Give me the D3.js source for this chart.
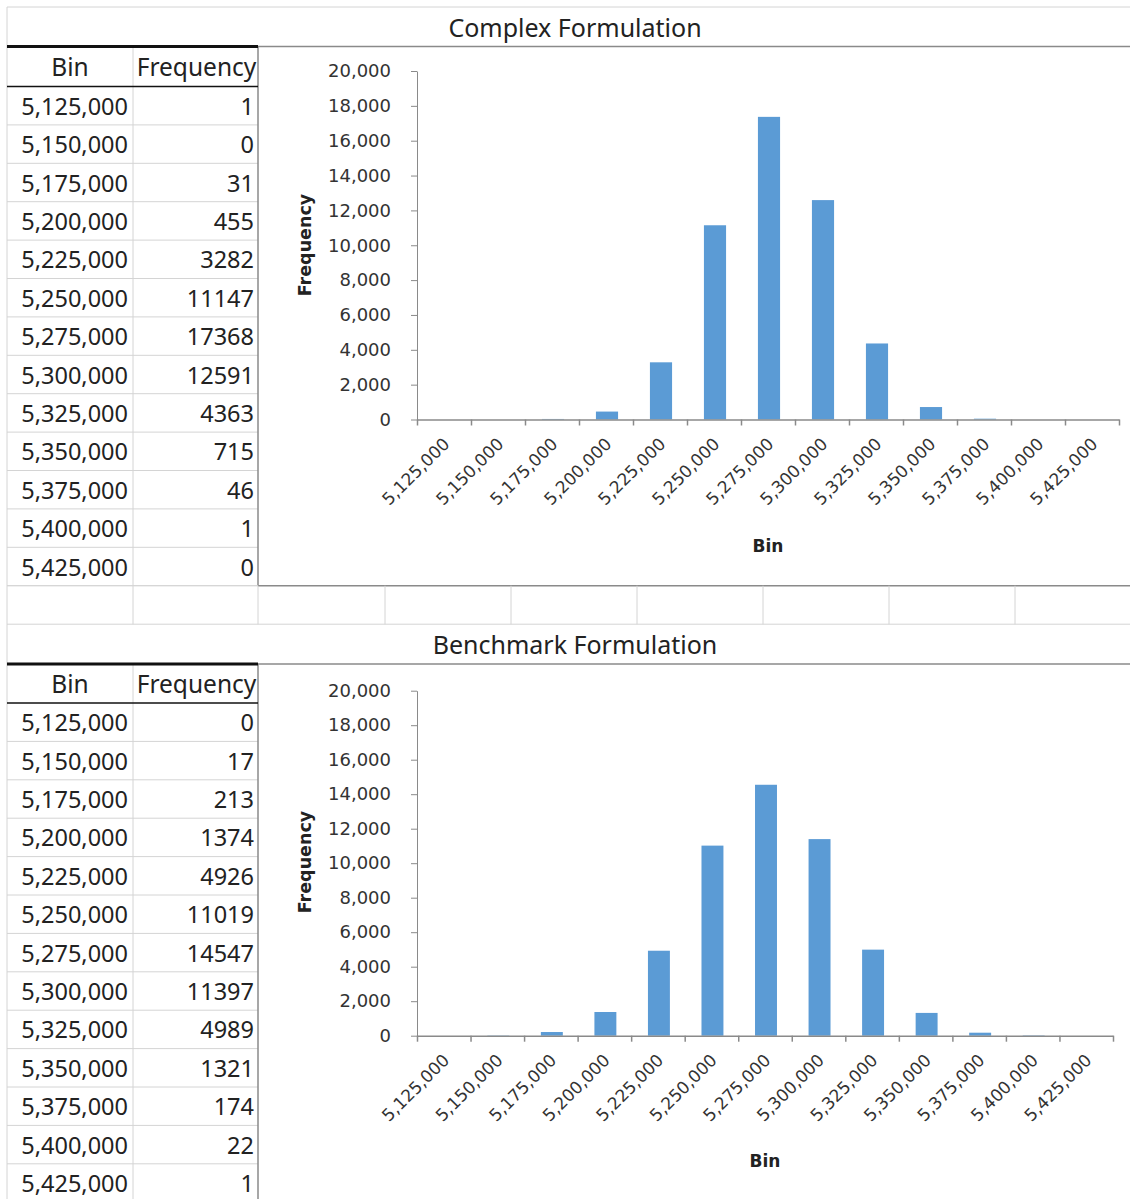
<!DOCTYPE html>
<meta charset="utf-8">
<script src="https://d3js.org/d3.v7.min.js"></script>
<style>
  body { margin: 0; background: #fff; }
  text { font-family: "Noto Sans", sans-serif; fill: #222; }
  .tick text { font-family: "DejaVu Sans", sans-serif; font-size: 18px; fill: #333; }
</style>
<div id="sheet"></div>
<script>

// data
var bins = [5125000, 5150000, 5175000, 5200000, 5225000, 5250000, 5275000,
            5300000, 5325000, 5350000, 5375000, 5400000, 5425000];
var complexFreq   = [1, 0, 31, 455, 3282, 11147, 17368, 12591, 4363, 715, 46, 1, 0];
var benchmarkFreq = [0, 17, 213, 1374, 4926, 11019, 14547, 11397, 4989, 1321, 174, 22, 1];
var yTicks = [0, 2000, 4000, 6000, 8000, 10000, 12000, 14000, 16000, 18000, 20000];
var titles = ["Complex Formulation", "Benchmark Formulation"];

var W = 1130, H = 1199;
var fmt = d3.format(",");
var gridColor = "#d4d4d4", frameColor = "#8a8a8a", barColor = "#5b9bd5";
var colA = 7, colB = 133, colC = 258;
var rowH = 38.4;
var extraCols = [385, 511, 637, 763, 889, 1015];

var svg = d3.select("#sheet").append("svg")
    .attr("width", W).attr("height", H);

// sheet outer lines
svg.append("line").attr("x1", colA).attr("x2", W).attr("y1", 7).attr("y2", 7)
    .attr("stroke", gridColor);
svg.append("line").attr("x1", colA).attr("x2", colA).attr("y1", 7).attr("y2", H)
    .attr("stroke", gridColor);

var panels = [
  {title: titles[0], freq: complexFreq, titleTop: 7, tableTop: 46.5, headH: 40,
   xr: [417, 1119], yr: [419.5, 71], yLabel: 245, binLabel: 546},
  {title: titles[1], freq: benchmarkFreq, titleTop: 624.2, tableTop: 664, headH: 39,
   xr: [417, 1113], yr: [1035.7, 690.7], yLabel: 862, binLabel: 1161}
];

panels.forEach(function(p, pi) {
  var g = svg.append("g");
  var dataTop = p.tableTop + p.headH;
  var dataBottom = dataTop + bins.length * rowH;

  // title row
  g.append("text")
      .attr("x", 575).attr("y", (p.titleTop + p.tableTop) / 2)
      .attr("text-anchor", "middle").attr("dominant-baseline", "central")
      .style("font-size", "25px")
      .text(p.title);

  // table grid
  bins.forEach(function(b, i) {
    var yb = dataTop + (i + 1) * rowH;
    g.append("line").attr("x1", colA).attr("x2", colC).attr("y1", yb).attr("y2", yb)
        .attr("stroke", gridColor);
  });
  g.append("line").attr("x1", colB).attr("x2", colB).attr("y1", p.tableTop).attr("y2", Math.min(dataBottom, H))
      .attr("stroke", gridColor);

  // chart frame
  g.append("line").attr("x1", colC).attr("x2", W).attr("y1", p.tableTop).attr("y2", p.tableTop)
      .attr("stroke", frameColor).attr("stroke-width", 1.5);
  g.append("line").attr("x1", colC).attr("x2", colC).attr("y1", p.tableTop).attr("y2", Math.min(dataBottom, H))
      .attr("stroke", frameColor).attr("stroke-width", 1.5);
  if (dataBottom < H) {
    g.append("line").attr("x1", colC).attr("x2", W).attr("y1", dataBottom).attr("y2", dataBottom)
        .attr("stroke", frameColor).attr("stroke-width", 1.5);
  }

  // table borders
  g.append("line").attr("x1", colA).attr("x2", colC).attr("y1", p.tableTop).attr("y2", p.tableTop)
      .attr("stroke", "#111").attr("stroke-width", 3);
  g.append("line").attr("x1", colA).attr("x2", colC).attr("y1", dataTop).attr("y2", dataTop)
      .attr("stroke", "#111").attr("stroke-width", 1.6);

  // header
  g.append("text").attr("x", (colA + colB) / 2).attr("y", p.tableTop + p.headH / 2)
      .attr("text-anchor", "middle").attr("dominant-baseline", "central")
      .style("font-size", "24.5px").text("Bin");
  g.append("text").attr("x", (colB + colC) / 2 + 1).attr("y", p.tableTop + p.headH / 2)
      .attr("text-anchor", "middle").attr("dominant-baseline", "central")
      .style("font-size", "24.5px").text("Frequency");

  // table values
  g.selectAll(".binCell").data(bins).enter().append("text")
      .attr("x", colB - 5)
      .attr("y", function(d, i) { return dataTop + i * rowH + rowH / 2; })
      .attr("text-anchor", "end").attr("dominant-baseline", "central")
      .style("font-size", "23.5px")
      .text(function(d) { return fmt(d); });
  g.selectAll(".freqCell").data(p.freq).enter().append("text")
      .attr("x", colC - 4)
      .attr("y", function(d, i) { return dataTop + i * rowH + rowH / 2; })
      .attr("text-anchor", "end").attr("dominant-baseline", "central")
      .style("font-size", "23.5px")
      .text(function(d) { return d; });

  // scales
  var x = d3.scaleBand().domain(bins).range(p.xr).padding(0);
  var xEdge = d3.scaleLinear().domain([0, bins.length]).range(p.xr);
  var y = d3.scaleLinear().domain([0, 20000]).range(p.yr);

  // y axis
  var ya = g.append("g")
      .attr("transform", "translate(" + p.xr[0] + ",0)")
      .call(d3.axisLeft(y).tickValues(yTicks).tickFormat(fmt)
            .tickSize(6).tickSizeOuter(0).tickPadding(20));
  ya.selectAll("line, path").attr("stroke", frameColor);

  // bars
  var bw = x.bandwidth() * 0.41;
  g.selectAll(".bar").data(p.freq).enter().append("rect")
      .attr("x", function(d, i) { return x(bins[i]) + x.bandwidth() / 2 - bw / 2 + 1; })
      .attr("y", function(d) { return y(d); })
      .attr("width", bw)
      .attr("height", function(d) { return y(0) - y(d); })
      .attr("fill", barColor);

  // x axis (ticks on category edges)
  var xa = g.append("g")
      .attr("transform", "translate(0," + p.yr[0] + ")")
      .call(d3.axisBottom(xEdge).tickValues(d3.range(bins.length + 1))
            .tickFormat("").tickSize(6).tickSizeOuter(0));
  xa.selectAll("line, path").attr("stroke", frameColor).attr("stroke-width", 1.5);

  // rotated category labels
  g.selectAll(".xl").data(bins).enter().append("text")
      .attr("transform", function(d) {
        return "translate(" + (x(d) + x.bandwidth() / 2 - 2) + "," + (p.yr[0] + 17) + ") rotate(-45)";
      })
      .attr("text-anchor", "end")
      .attr("dy", "0.71em")
      .style("font-family", "DejaVu Sans").style("font-size", "17px").style("fill", "#333")
      .text(function(d) { return fmt(d); });

  // axis titles
  g.append("text")
      .attr("transform", "translate(305," + p.yLabel + ") rotate(-90)")
      .attr("text-anchor", "middle").attr("dominant-baseline", "central")
      .style("font-family", "DejaVu Sans").style("font-weight", "bold").style("font-size", "17.5px")
      .text("Frequency");
  g.append("text")
      .attr("x", (p.xr[0] + p.xr[1]) / 2).attr("y", p.binLabel)
      .attr("text-anchor", "middle").attr("dominant-baseline", "central")
      .style("font-family", "DejaVu Sans").style("font-weight", "bold").style("font-size", "17px")
      .text("Bin");

  // spacer row under the first block
  if (pi === 0) {
    var r0 = dataBottom, r1 = p2Top();
    g.append("line").attr("x1", colA).attr("x2", colC).attr("y1", r0).attr("y2", r0).attr("stroke", gridColor);
    g.append("line").attr("x1", colA).attr("x2", W).attr("y1", r1).attr("y2", r1).attr("stroke", gridColor);
    [colB, colC].concat(extraCols).forEach(function(cx) {
      g.append("line").attr("x1", cx).attr("x2", cx).attr("y1", r0).attr("y2", r1).attr("stroke", gridColor);
    });
  }
});

function p2Top() { return panels[1].titleTop; }
</script>
